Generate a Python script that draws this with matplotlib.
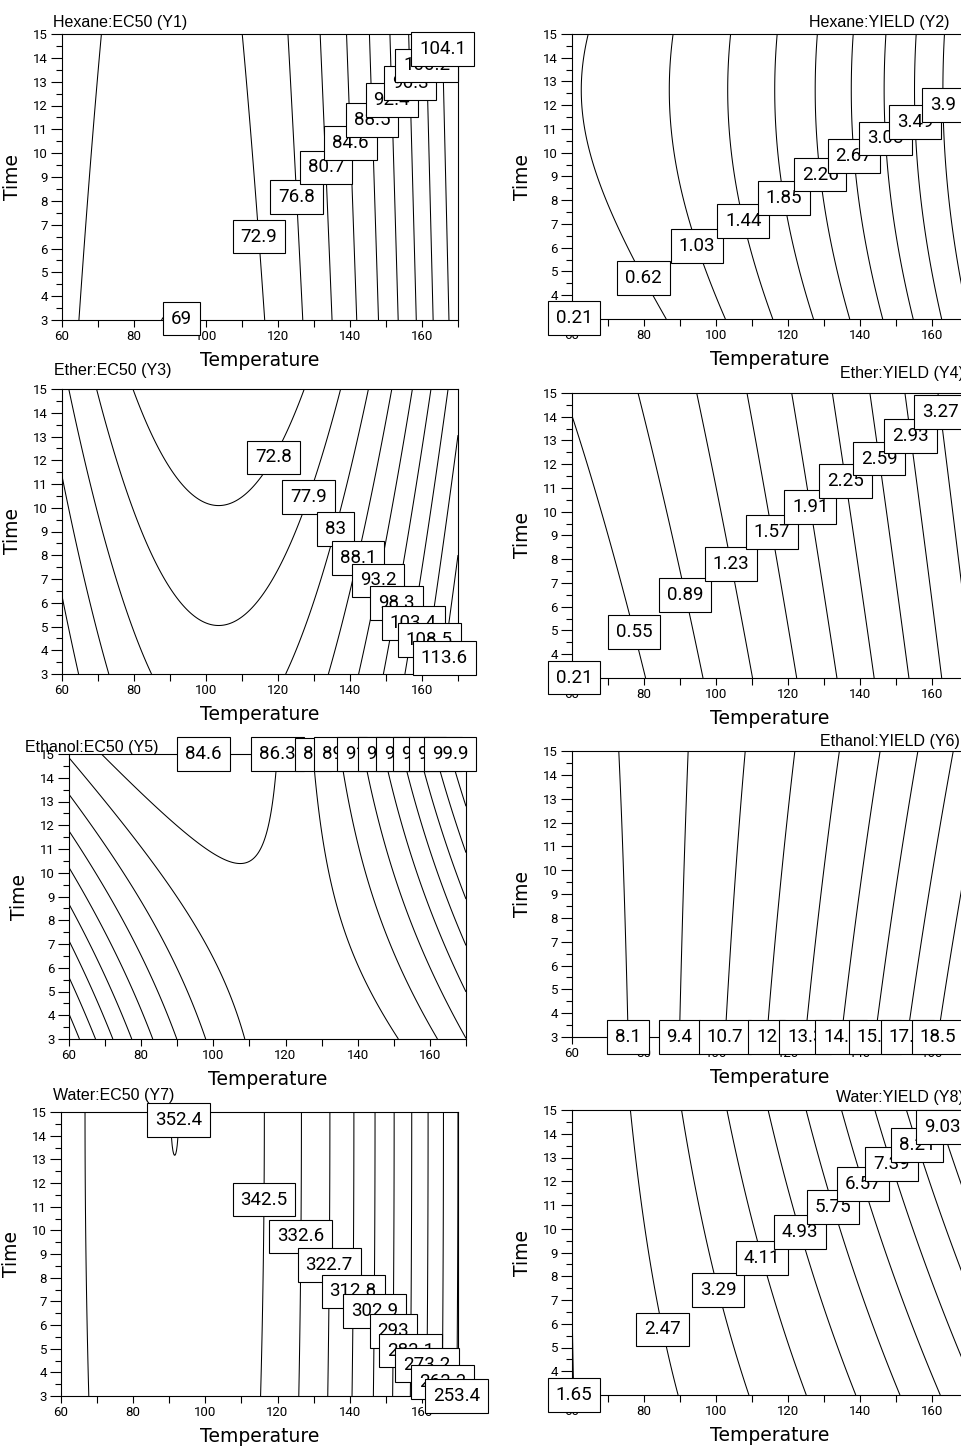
import numpy as np
import matplotlib
matplotlib.use("Agg")
import matplotlib.pyplot as plt

W, H = 962, 1448

# quadratic response surfaces in coded units
# x1 = (Temperature - 115) / 55 , x2 = (Time - 9) / 6
# coefficients: b0, b1, b2, b11, b22, b12
y1_hexane_ec50 = [73.35, 15.98, 0.84, 17.94, 0.0, 0.0]
y2_hexane_yield = [1.7497, 1.8464, 0.1841, 0.6322, -0.1516, 0.0]
y3_ether_ec50 = [75.06, 11.07, -6.06, 26.47, 0.0, 0.0]
y4_ether_yield = [1.5505, 1.5082, 0.1902, 0.3479, 0.0, 0.0]
y5_ethanol_ec50 = [86.63, 1.075, -0.70, 8.89, 0.0, 5.92]
y6_ethanol_yield = [11.716, 5.834, -0.387, 1.252, 0.0, -0.650]
y7_water_ec50 = [343.34, -41.54, 0.409, -48.61, -0.2045, 0.0]
y8_water_yield = [4.2723, 3.4492, 0.6971, 0.8319, 0.0, 0.6821]

# contour levels printed in the boxes
y1_levels = [69, 72.9, 76.8, 80.7, 84.6, 88.5, 92.4, 96.3, 100.2, 104.1]
y2_levels = [0.21, 0.62, 1.03, 1.44, 1.85, 2.26, 2.67, 3.08, 3.49, 3.9]
y3_levels = [72.8, 77.9, 83, 88.1, 93.2, 98.3, 103.4, 108.5, 113.6]
y4_levels = [0.21, 0.55, 0.89, 1.23, 1.57, 1.91, 2.25, 2.59, 2.93, 3.27]
y5_levels = [84.6, 86.3, 88.0, 89.7, 91.4, 93.1, 94.8, 96.5, 98.2, 99.9]
y6_levels = [8.1, 9.4, 10.7, 12.0, 13.3, 14.6, 15.9, 17.2, 18.5]
y7_levels = [253.4, 263.3, 273.2, 283.1, 293.0, 302.9, 312.8, 322.7, 332.6, 342.5, 352.4]
y8_levels = [1.65, 2.47, 3.29, 4.11, 4.93, 5.75, 6.57, 7.39, 8.21, 9.03]

# where the software put each label (Temperature, Time), same order as levels
y1_label_at = [(92, 3.0), (114.6, 6.5), (125.4, 8.17), (133.2, 9.39), (140.2, 10.44),
               (146.4, 11.39), (151.8, 12.24), (156.7, 12.94), (161.3, 13.67), (166, 14.38)]
y2_label_at = [(60, 3.0), (79.8, 4.73), (95.2, 6.09), (107.4, 7.14), (118.4, 8.1),
               (129.4, 9.08), (138.2, 9.86), (147, 10.6), (154.6, 11.3), (162.7, 12.0)]
y3_label_at = [(118.7, 12.12), (128.2, 10.44), (135.5, 9.12), (142.3, 7.9), (147.7, 6.95),
               (153.1, 5.98), (157.8, 5.14), (161.8, 4.42), (166, 3.69)]
y4_label_at = [(60, 3.0), (77.6, 4.94), (91.9, 6.5), (104, 7.81), (116.2, 9.15),
               (126.1, 10.2), (135.9, 11.3), (144.7, 12.24), (153.5, 13.2), (162.2, 14.2)]
y5_label_at = [(97.4, 15), (117, 15), (129.2, 15), (134, 15), (141.2, 15),
               (146.7, 15), (151.3, 15), (156.1, 15), (160.7, 15), (165.4, 15)]
y6_label_at = [(75.4, 3), (89.7, 3), (101.9, 3), (113.9, 3), (123.8, 3),
               (133.8, 3), (143.5, 3), (152.5, 3), (161.2, 3)]
y7_label_at = [(169.4, 2.97), (165.7, 3.6), (161.1, 4.3), (157.2, 4.92), (151.7, 5.76),
               (146.4, 6.6), (141, 7.42), (133.9, 8.55), (126.1, 9.75), (116, 11.3), (94.2, 14.65)]
y8_label_at = [(60, 3.0), (85.3, 5.77), (100.8, 7.43), (112.8, 8.77), (122.7, 9.85),
               (132.7, 10.93), (141.5, 11.9), (149.1, 12.74), (156.9, 13.57), (163.4, 14.3)]

plt.rcParams['font.family'] = ['Roboto', 'DejaVu Sans']
plt.rcParams['axes.linewidth'] = 0.8

fig = plt.figure(figsize=(W / 100, H / 100), dpi=100)

T = np.linspace(60, 170, 551)
t = np.linspace(3, 15, 601)
TT, tt = np.meshgrid(T, t)
x1 = (TT - 115) / 55
x2 = (tt - 9) / 6


def surface(c):
    b0, b1, b2, b11, b22, b12 = c
    return b0 + b1 * x1 + b2 * x2 + b11 * x1 ** 2 + b22 * x2 ** 2 + b12 * x1 * x2


def panel(left, right, top, bottom, coef, levels, label_at):
    ax = fig.add_axes([left / W, 1 - bottom / H, (right - left) / W, (bottom - top) / H])
    cs = ax.contour(TT, tt, surface(coef), levels=levels, colors='black', linewidths=0.75)
    for lev, segs, (hx, hy) in zip(cs.levels, cs.allsegs, label_at):
        segs = [s for s in segs if len(s)]
        pts = np.vstack(segs) if segs else np.array([[hx, hy]])
        d = ((pts[:, 0] - hx) / 110) ** 2 + ((pts[:, 1] - hy) / 12) ** 2
        px, py = pts[np.argmin(d)]
        ax.text(px, py, f"{lev:g}", ha='center', va='center', fontsize=13.5,
                zorder=5 + hx / 200, clip_on=False,
                bbox=dict(boxstyle='square,pad=0.42', fc='white', ec='black', lw=0.8))
    ax.set_xlim(60, 170)
    ax.set_ylim(3, 15)
    ax.set_xticks(np.arange(60, 161, 20))
    ax.set_xticks(np.arange(70, 171, 20), minor=True)
    ax.set_yticks(np.arange(3, 16))
    ax.set_yticks(np.arange(3.5, 15, 0.5), minor=True)
    ax.tick_params(which='both', direction='out', width=0.8, labelsize=9.5, pad=2)
    ax.tick_params(axis='x', which='both', length=5)
    ax.tick_params(axis='y', which='major', length=8)
    ax.tick_params(axis='y', which='minor', length=4)
    ax.set_xlabel('Temperature', family='DejaVu Sans', fontsize=13.5, labelpad=6)
    ax.set_ylabel('Time', family='DejaVu Sans', fontsize=13.5, labelpad=8)
    return ax


panel(62, 458, 34, 320, y1_hexane_ec50, y1_levels, y1_label_at)
panel(572, 968, 34, 319, y2_hexane_yield, y2_levels, y2_label_at)
panel(62, 458, 389, 674, y3_ether_ec50, y3_levels, y3_label_at)
panel(572, 968, 393, 678, y4_ether_yield, y4_levels, y4_label_at)
panel(69, 466, 754, 1039, y5_ethanol_ec50, y5_levels, y5_label_at)
panel(572, 968, 751, 1037, y6_ethanol_yield, y6_levels, y6_label_at)
panel(61, 458, 1112, 1396, y7_water_ec50, y7_levels, y7_label_at)
panel(572, 968, 1110, 1395, y8_water_yield, y8_levels, y8_label_at)

# panel titles (x, baseline y in pixels)
titles = [("Hexane:EC50 (Y1)", 53, 27, 'left'), ("Hexane:YIELD (Y2)", 950, 27, 'right'),
          ("Ether:EC50 (Y3)", 54, 375, 'left'), ("Ether:YIELD (Y4)", 964, 378, 'right'),
          ("Ethanol:EC50 (Y5)", 25, 752, 'left'), ("Ethanol:YIELD (Y6)", 960, 746, 'right'),
          ("Water:EC50 (Y7)", 53, 1100, 'left'), ("Water:YIELD (Y8)", 964, 1102, 'right')]
for txt, x, y, ha in titles:
    fig.text(x / W, 1 - y / H, txt, ha=ha, va='baseline', family='Liberation Sans', fontsize=11.5)

fig.savefig('out.png', dpi=100)
